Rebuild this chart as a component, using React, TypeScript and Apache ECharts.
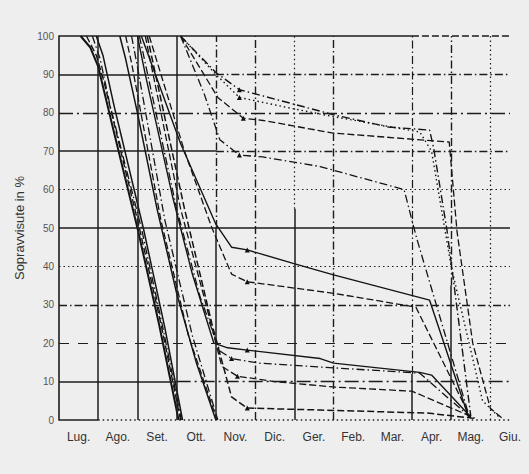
import React, { useEffect, useRef } from 'react';
import * as echarts from 'echarts';

// x in months from the start of July (0 = Lug. boundary), y = survivors in %
const monthLabels = ['Lug.', 'Ago.', 'Set.', 'Ott.', 'Nov.', 'Dic.', 'Ger.', 'Feb.', 'Mar.', 'Apr.', 'Mag.', 'Giu.'];

const curveA1 = [[0.55, 100], [0.8, 97], [1.0, 92], [1.4, 75], [2.0, 50], [2.55, 25], [3.05, 0]];
const curveA2 = [[0.7, 100], [0.95, 95], [1.15, 88], [2.05, 50], [2.6, 25], [3.1, 0]];
const curveA3 = [[0.85, 100], [1.05, 94], [1.3, 82], [2.1, 50], [2.65, 24], [3.12, 0]];
const curveA4 = [[0.95, 100], [1.12, 95], [1.4, 82], [2.15, 50], [2.7, 24], [3.15, 0]];

const curveB1 = [[1.55, 100], [1.7, 94], [2.0, 80], [2.5, 55], [3.0, 33], [3.5, 15], [4.0, 0]];
const curveB2 = [[1.7, 100], [1.85, 93], [2.6, 52], [3.3, 22], [4.03, 0]];
const curveB3 = [[1.85, 100], [2.0, 92], [2.7, 52], [3.4, 22], [4.05, 0]];

const curveD1 = [[2.0, 100], [2.2, 90], [2.9, 58], [3.4, 38], [3.95, 20], [4.3, 18.8], [4.8, 18.2], [6.66, 16], [7.0, 14.8], [9.2, 12.4], [9.5, 11.7], [10.5, 0.8]];
const curveD2 = [[2.05, 100], [3.0, 55], [3.6, 32], [4.1, 18], [4.4, 16], [5.1, 14.8], [6.66, 13.8], [9.2, 12.2], [10.5, 0.6]];
const curveD3 = [[2.2, 100], [3.1, 55], [3.7, 32], [4.15, 14], [4.55, 11.4], [5.5, 10], [7.0, 8.6], [9.0, 7.5], [10.6, 0.5]];
const curveD4 = [[2.25, 100], [3.2, 55], [3.9, 25], [4.4, 6], [4.8, 3.1], [6.66, 2.6], [9.4, 1.8], [10.6, 0.4]];

const curveM1 = [[2.1, 100], [2.6, 86], [3.1, 72], [4.0, 51], [4.4, 45], [4.8, 44.3], [5.97, 40.8], [7.0, 37.8], [9.45, 31.2], [10.45, 0.6]];
const curveM2 = [[2.3, 100], [3.2, 70], [3.9, 50], [4.4, 38], [4.8, 36], [7.0, 33], [9.1, 29.4], [10.5, 0.5]];

const curveC1 = [[3.1, 100], [4.0, 90.5], [4.6, 86], [5.2, 84.4], [7.0, 79.5], [8.4, 76.3], [9.45, 75.5], [9.55, 71], [9.9, 49], [10.5, 1]];
const curveC2 = [[3.1, 100], [4.0, 90], [4.6, 84], [6.0, 81], [7.0, 79], [9.2, 75], [9.5, 70], [10.0, 40], [10.8, 5], [11.25, 0.5]];
const curveC3 = [[3.1, 100], [4.05, 84], [4.7, 78.6], [5.2, 78], [7.0, 74.7], [9.95, 72.4], [10.15, 49], [10.55, 20], [11.0, 3], [11.3, 0.5]];
const curveC4 = [[3.1, 100], [3.7, 85], [4.1, 73], [4.6, 69], [5.2, 68.5], [6.66, 66], [8.8, 60], [9.0, 52], [9.13, 47], [10.45, 1.3]];

// gridline positions (axis values)
const hGridValues = [100, 90, 80, 70, 60, 50, 40, 30, 20, 10, 0];
const vGridValues = [1, 2, 3, 4, 5, 6, 7, 9, 10, 11];

const SOLID: any = 'solid';
const DASH = [7, 3];
const DASHDOT = [8, 3, 1.5, 3];
const LONGDASH = [14, 4, 2, 4];
const DOT = [1.5, 3];
const SPARSE = [10, 9];

export default function App() {
  const ref = useRef<HTMLDivElement>(null);

  useEffect(() => {
    document.body.style.margin = '0';
    document.body.style.background = '#eeeeee';
    const chart = echarts.init(ref.current!, null, { renderer: 'svg' });
    const gridColor = '#1c1c1c';
    const xMax = 11.5;

    const hStyles: Record<number, Array<[number, number, any, number]>> = {
      100: [[0, 9, SOLID, 1.6], [9, xMax, DASH, 1.6]],
      90: [[0, 4, SOLID, 1.5], [4, xMax, DASHDOT, 1.4]],
      80: [[0, xMax, LONGDASH, 1.4]],
      70: [[0, 4, SOLID, 1.5], [4, xMax, DASHDOT, 1.4]],
      60: [[0, xMax, DOT, 1]],
      50: [[0, xMax, SOLID, 1.5]],
      40: [[0, xMax, DOT, 1]],
      30: [[0, xMax, DASHDOT, 1.4]],
      20: [[0, xMax, SPARSE, 1.2]],
      10: [[0, 3, SOLID, 1.5], [3, xMax, LONGDASH, 1.4]],
      0: [[0, 1, SOLID, 1.5], [1, xMax, DOT, 1.5]],
    };
    const vStyles: Record<number, Array<[number, number, any, number]>> = {
      1: [[0, 100, SOLID, 1.5]],
      2: [[0, 100, SOLID, 1.5]],
      3: [[0, 100, SOLID, 1.5]],
      4: [[0, 50, SOLID, 1.5], [50, 100, DASHDOT, 1.4]],
      5: [[0, 100, DASHDOT, 1.4]],
      6: [[0, 55, SOLID, 1.5], [55, 100, DOT, 1.2]],
      7: [[0, 100, DASHDOT, 1.4]],
      9: [[0, 12, SOLID, 1.5], [12, 100, DASHDOT, 1.2]],
      10: [[0, 35, SOLID, 1.5], [35, 100, DASHDOT, 1.4]],
      11: [[0, 100, DOT, 1.2]],
    };

    const gridLines: any[] = [];
    hGridValues.forEach((y) => {
      (hStyles[y] || []).forEach(([x1, x2, t, w]) => {
        gridLines.push([
          { coord: [x1, y], lineStyle: { color: gridColor, type: t, width: w } },
          { coord: [x2, y] },
        ]);
      });
    });
    vGridValues.forEach((x) => {
      (vStyles[x] || []).forEach(([y1, y2, t, w]) => {
        gridLines.push([
          { coord: [x, y1], lineStyle: { color: gridColor, type: t, width: w } },
          { coord: [x, y2] },
        ]);
      });
    });

    const curves: Array<{ data: number[][]; type: any; width: number; mark?: number }> = [
      { data: curveA1, type: SOLID, width: 2 },
      { data: curveA2, type: DASH, width: 1.4 },
      { data: curveA3, type: DASHDOT, width: 1.3 },
      { data: curveA4, type: SOLID, width: 1.5 },
      { data: curveB1, type: SOLID, width: 1.5 },
      { data: curveB2, type: DASH, width: 1.3 },
      { data: curveB3, type: DASHDOT, width: 1.3 },
      { data: curveD1, type: SOLID, width: 1.4, mark: 6 },
      { data: curveD2, type: DASHDOT, width: 1.3, mark: 4 },
      { data: curveD3, type: DASH, width: 1.3, mark: 4 },
      { data: curveD4, type: DASH, width: 1.5, mark: 4 },
      { data: curveM1, type: SOLID, width: 1.4, mark: 5 },
      { data: curveM2, type: DASH, width: 1.3, mark: 4 },
      { data: curveC1, type: DASHDOT, width: 1.4, mark: 2 },
      { data: curveC2, type: DOT, width: 1.4, mark: 2 },
      { data: curveC3, type: DASH, width: 1.3, mark: 2 },
      { data: curveC4, type: DASHDOT, width: 1.3, mark: 3 },
    ];

    const series: any[] = [
      {
        type: 'line',
        data: [[0, 100]],
        showSymbol: false,
        lineStyle: { width: 0 },
        silent: true,
        markLine: {
          silent: true,
          symbol: ['none', 'none'],
          label: { show: false },
          animation: false,
          data: gridLines,
        },
      },
      ...curves.map((c) => ({
        type: 'line',
        silent: true,
        symbol: 'none',
        showSymbol: true,
        data: c.data.map((p, i) =>
          i === c.mark
            ? { value: p, symbol: 'triangle', symbolSize: 5, itemStyle: { color: '#111' } }
            : { value: p }
        ),
        lineStyle: { color: '#141414', width: c.width, type: c.type },
      })),
    ];

    chart.setOption({
      animation: false,
      backgroundColor: '#eeeeee',
      grid: { left: 59, top: 36, right: 19, bottom: 54 },
      xAxis: {
        type: 'value',
        min: 0,
        max: xMax,
        interval: 0.5,
        axisLine: { show: false },
        axisTick: { show: false },
        splitLine: { show: false },
        axisLabel: {
          showMinLabel: true,
          showMaxLabel: true,
          color: '#333',
          fontSize: 12,
          fontFamily: 'Liberation Sans',
          margin: 11,
          formatter: (v: number) => {
            const r = Math.round(v * 2);
            if (r % 2 === 1) return monthLabels[(r - 1) / 2] || '';
            return '';
          },
        },
      },
      yAxis: {
        type: 'value',
        min: 0,
        max: 100,
        interval: 10,
        name: 'Sopravvisute in %',
        nameLocation: 'middle',
        nameGap: 29,
        nameTextStyle: { color: '#333', fontSize: 13, fontFamily: 'Liberation Sans' },
        axisLine: { show: true, lineStyle: { color: '#1c1c1c', width: 1.6 } },
        axisTick: { show: false },
        splitLine: { show: false },
        axisLabel: { color: '#555', fontSize: 10, fontFamily: 'Liberation Sans', margin: 5 },
      },
      series,
    });
    return () => chart.dispose();
  }, []);

  return (
    <div
      ref={ref}
      style={{ position: 'absolute', left: 0, top: 0, width: 529, height: 474, background: '#eeeeee' }}
    />
  );
}
